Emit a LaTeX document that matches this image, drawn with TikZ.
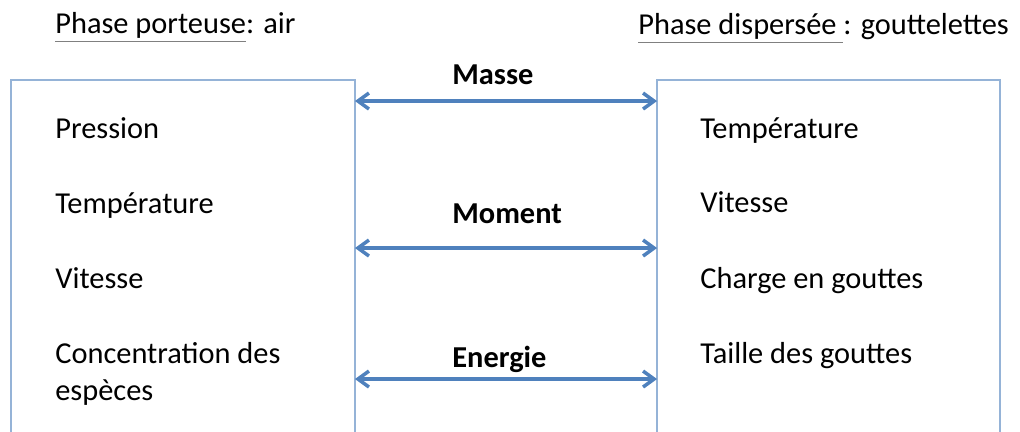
\documentclass[tikz,border=0pt]{standalone}
\usepackage{fontspec}
\setmainfont{Carlito}
\usepackage{tikz}
\usetikzlibrary{arrows.meta,positioning,calc}
\definecolor{boxblue}{HTML}{95B3D7}
\definecolor{fluxblue}{HTML}{4F81BD}
\newcommand{\diagfont}{\fontsize{17.3}{21}\selectfont}
\newcommand{\grayline}[1]{\textcolor{gray}{\underline{\textcolor{black}{#1}}}}

\begin{document}
\begin{tikzpicture}[
  x=0.02cm, y=-0.02cm,
  phase/.style={rectangle, draw=boxblue, line width=1.2pt, outer sep=0pt,
    minimum width=#1, minimum height=8cm},
  item/.style={anchor=base west, inner sep=0pt, font=\diagfont, align=left},
  head/.style={anchor=base west, inner sep=0pt, font=\diagfont},
  lbl/.style={anchor=base west, inner sep=0pt, font=\diagfont\bfseries},
  flux/.style={{Straight Barb[length=0.22cm, width=0.32cm]}-{Straight Barb[length=0.22cm, width=0.32cm]},
    draw=fluxblue, line width=2pt}
]
  \useasboundingbox (0,0) rectangle (1020,432);
  % the two phases
  \node[phase=6.88cm] (porteuse) at (183,280) {};
  \node[phase=6.86cm] (dispersee) at (828.5,280) {};
  \node[head] (hporteuse) at (55,34) {\grayline{Phase porteuse}: air};
  \node[head] (hdispersee) at (638,35) {\grayline{Phase dispersée }: gouttelettes};
  %
  \node[item] (pression) at (55,139) {Pression};
  \node[item] (tempair) at (55,214) {Température};
  \node[item] (vitair) at (55,288) {Vitesse};
  \node[item] (concentration) at (55,400) {Concentration des\\espèces};
  \node[item] (tempgoutte) at (700,139) {Température};
  \node[item] (vitgoutte) at (700,213) {Vitesse};
  \node[item] (charge) at (700,288) {Charge en gouttes};
  \node[item] (taille) at (700,363) {Taille des gouttes};
  % exchanges
  \node[lbl] (masse) at (452,85) {Masse};
  \node[lbl] (moment) at (452,223) {Moment};
  \node[lbl] (energie) at (452,367) {Energie};
  \draw[flux] ($(porteuse.north east)+(0,21)$) -- ($(dispersee.north west)+(0,21)$);
  \draw[flux] ($(porteuse.north east)+(0,168)$) -- ($(dispersee.north west)+(0,168)$);
  \draw[flux] ($(porteuse.north east)+(0,299)$) -- ($(dispersee.north west)+(0,299)$);
\end{tikzpicture}
\end{document}
